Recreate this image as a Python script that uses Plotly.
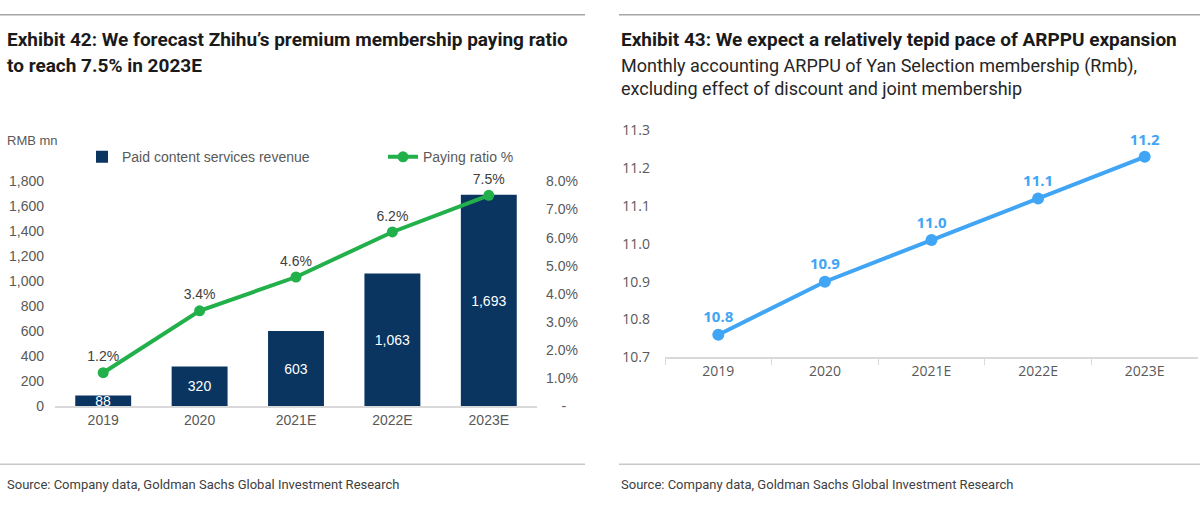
import plotly.graph_objects as go

# ---------------- data ----------------
years = ["2019", "2020", "2021E", "2022E", "2023E"]
revenue = [88, 320, 603, 1063, 1693]
paying_ratio = [0.012, 0.034, 0.046, 0.062, 0.075]
arppu = [10.76, 10.90, 11.01, 11.12, 11.23]

left_ticks = [0, 200, 400, 600, 800, 1000, 1200, 1400, 1600, 1800]
right_ticks = [0, 0.01, 0.02, 0.03, 0.04, 0.05, 0.06, 0.07, 0.08]
right_ticktext = ["\u00a0\u00a0\u00a0\u00a0-", "1.0%", "2.0%", "3.0%", "4.0%", "5.0%", "6.0%", "7.0%", "8.0%"]
arppu_ticks = [10.7, 10.8, 10.9, 11.0, 11.1, 11.2, 11.3]

W, H = 1200, 505
def px(x):
    return x / W
def py(y):
    return 1 - y / H

NARROW = "Roboto, Liberation Sans, sans-serif"
SANS = "Liberation Sans, Arial, sans-serif"

navy = "#0a3560"
green = "#22b04b"
blue = "#41a5f5"
tick_col = "#595959"

fig = go.Figure()

fig.add_trace(go.Bar(
    x=years, y=revenue, name="Paid content services revenue",
    marker=dict(color=navy, line=dict(width=0)),
    text=[f"{v:,}" for v in revenue], textposition="inside",
    insidetextanchor="middle", textangle=0,
    textfont=dict(color="white", size=14, family=SANS),
    xaxis="x", yaxis="y", hoverinfo="skip",
))
fig.add_trace(go.Scatter(
    x=years, y=paying_ratio, name="Paying ratio %", mode="lines+markers+text",
    line=dict(color=green, width=4), marker=dict(color=green, size=11),
    text=[f"{v*100:.1f}%" for v in paying_ratio], textposition="top center",
    textfont=dict(color="#404040", size=14, family=SANS), cliponaxis=False,
    xaxis="x", yaxis="y2", hoverinfo="skip",
))
fig.add_trace(go.Scatter(
    x=years, y=arppu, name="ARPPU", mode="lines+markers+text", showlegend=False,
    line=dict(color=blue, width=4), marker=dict(color=blue, size=12),
    text=[f"{v:.1f}" for v in arppu], textposition="top center",
    textfont=dict(color=blue, size=15, family="Open Sans, sans-serif", weight="bold"),
    cliponaxis=False,
    xaxis="x3", yaxis="y3", hoverinfo="skip",
))

fig.update_layout(
    width=W, height=H, margin=dict(l=0, r=0, t=0, b=0),
    paper_bgcolor="white", plot_bgcolor="white",
    bargap=0.42,
    uniformtext=dict(minsize=14, mode="show"),
    showlegend=True,
    legend=dict(orientation="h", x=px(82), y=py(153), xanchor="left", yanchor="middle",
                entrywidth=256, entrywidthmode="pixels",
                font=dict(size=14, color=tick_col, family=SANS),
                bgcolor="rgba(0,0,0,0)", traceorder="normal"),
    xaxis=dict(domain=[px(55), px(537)], anchor="y", showline=True, linecolor="#d9d9d9",
               linewidth=1.5, ticks="", showgrid=False, range=[-0.5, 4.5],
               tickfont=dict(size=14, color=tick_col, family=SANS)),
    yaxis=dict(domain=[py(412), py(178)], anchor="x", range=[0, 1800], tickvals=left_ticks,
               tickformat=",", showgrid=False, zeroline=False, showline=False,
               ticklabelstandoff=10,
               tickfont=dict(size=14, color=tick_col, family=SANS)),
    yaxis2=dict(domain=[py(412), py(178)], anchor="x", overlaying="y", side="right",
                range=[0, 0.08], tickvals=right_ticks, ticktext=right_ticktext,
                showgrid=False, zeroline=False, showline=False, ticklabelstandoff=8,
                tickfont=dict(size=14, color=tick_col, family=SANS)),
    xaxis3=dict(domain=[px(665), px(1198)], anchor="y3", showline=True, linecolor="#d9d9d9",
                linewidth=1.5, ticks="outside", tickson="boundaries", ticklen=6,
                tickcolor="#d9d9d9", showgrid=False, range=[-0.5, 4.5],
                tickfont=dict(size=14, color=tick_col, family="Open Sans, sans-serif")),
    yaxis3=dict(domain=[py(361), py(125)], anchor="x3", range=[10.7, 11.3], tickvals=arppu_ticks,
                tickformat=".1f", showgrid=False, zeroline=False, showline=False,
                ticklabelstandoff=14,
                tickfont=dict(size=14, color=tick_col, family="Open Sans, sans-serif")),
)

annotations = [
    dict(text="Exhibit 42: We forecast Zhihu\u2019s premium membership paying ratio",
         x=px(5), y=py(31), font=dict(size=19, color="#1a1a1a", family=NARROW, weight="bold")),
    dict(text="to reach 7.5% in 2023E",
         x=px(5), y=py(58), font=dict(size=19, color="#1a1a1a", family=NARROW, weight="bold")),
    dict(text="Exhibit 43: We expect a relatively tepid pace of ARPPU expansion",
         x=px(619), y=py(31), font=dict(size=19, color="#1a1a1a", family=NARROW, weight="bold")),
    dict(text="Monthly accounting ARPPU of Yan Selection membership (Rmb),",
         x=px(619), y=py(58), font=dict(size=18, color="#262626", family=NARROW)),
    dict(text="excluding effect of discount and joint membership",
         x=px(619), y=py(82), font=dict(size=18, color="#262626", family=NARROW)),
    dict(text="RMB mn", x=px(5), y=py(136), font=dict(size=13, color=tick_col, family=SANS)),
    dict(text="Source: Company data, Goldman Sachs Global Investment Research",
         x=px(5), y=py(493), font=dict(size=13, color="#404040", family=NARROW)),
    dict(text="Source: Company data, Goldman Sachs Global Investment Research",
         x=px(619), y=py(493), font=dict(size=13, color="#404040", family=NARROW)),
]
for a in annotations:
    a.update(xref="paper", yref="paper", xanchor="left", yanchor="middle", showarrow=False)
fig.update_layout(annotations=annotations)

shapes = [
    dict(x0=0, x1=px(585), y0=py(5), y1=py(5), line=dict(color="#a6a6a6", width=1.5)),
    dict(x0=px(619), x1=1, y0=py(5), y1=py(5), line=dict(color="#a6a6a6", width=1.5)),
    dict(x0=0, x1=px(585), y0=py(472), y1=py(472), line=dict(color="#c8c8c8", width=1.5)),
    dict(x0=px(619), x1=1, y0=py(472), y1=py(472), line=dict(color="#c8c8c8", width=1.5)),
]
for s in shapes:
    s.update(type="line", xref="paper", yref="paper")
fig.update_layout(shapes=shapes)

fig.write_html("out.html")
